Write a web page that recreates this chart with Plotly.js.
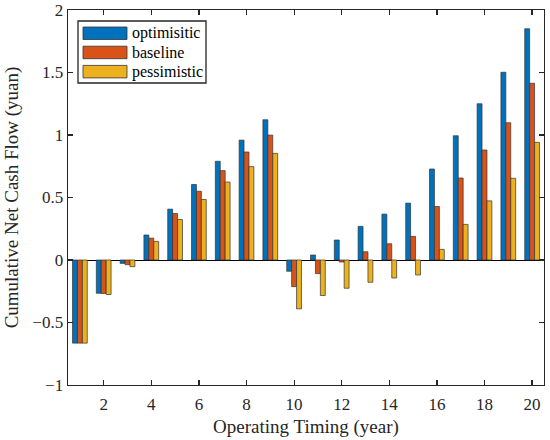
<!DOCTYPE html>
<html>
<head>
<meta charset="utf-8">
<script src="https://cdn.plot.ly/plotly-3.0.1.min.js"></script>
<style>
html,body{margin:0;padding:0;background:#fff;}
#chart{width:550px;height:440px;}
</style>
</head>
<body>
<div id="chart"></div>
<script>
var years = [1,2,3,4,5,6,7,8,9,10,11,12,13,14,15,16,17,18,19,20];
var seriesNames = ["optimisitic", "baseline", "pessimistic"];
var optimistic = [-0.665,-0.266,-0.027,0.200,0.407,0.604,0.790,0.959,1.122,-0.090,0.040,0.160,0.269,0.367,0.455,0.728,0.994,1.250,1.502,1.850];
var baseline   = [-0.665,-0.268,-0.037,0.175,0.372,0.550,0.715,0.864,0.999,-0.213,-0.109,-0.016,0.066,0.130,0.189,0.428,0.656,0.880,1.098,1.414];
var pessimistic= [-0.665,-0.276,-0.053,0.149,0.324,0.484,0.624,0.747,0.853,-0.391,-0.284,-0.226,-0.178,-0.144,-0.120,0.085,0.285,0.473,0.654,0.941];
var colors = ["#0072BD", "#D95319", "#EDB120"];
var allSeries = [optimistic, baseline, pessimistic];

var traces = allSeries.map(function(vals, i){
  return {
    type: "bar",
    x: years,
    y: vals,
    name: seriesNames[i],
    marker: {color: colors[i], line: {color: "#333333", width: 0.7}}
  };
});

var fontFam = "Liberation Serif, Times New Roman, serif";
var axisCol = "#262626";

// plot-area geometry (pixels) used to place the hand-built legend
var M = {l: 68, r: 6, t: 10, b: 55};
var PW = 550 - M.l - M.r, PH = 440 - M.t - M.b;
function px(x){ return (x - M.l) / PW; }
function py(y){ return 1 - (y - M.t) / PH; }

var shapes = [];
var annotations = [];
// legend frame
shapes.push({type: "rect", xref: "paper", yref: "paper",
  x0: px(78), x1: px(206), y0: py(83), y1: py(21),
  fillcolor: "#ffffff", line: {color: axisCol, width: 1.3}, layer: "above"});
seriesNames.forEach(function(name, i){
  var top = 27 + i * 19.2;
  shapes.push({type: "rect", xref: "paper", yref: "paper",
    x0: px(83), x1: px(127), y0: py(top + 12.5), y1: py(top),
    fillcolor: colors[i], line: {color: "#333333", width: 0.8}, layer: "above"});
  annotations.push({xref: "paper", yref: "paper", x: px(130), y: py(top + 6.5),
    xanchor: "left", yanchor: "middle", showarrow: false, text: name,
    font: {family: fontFam, size: 16, color: "#000000"}});
});

var layout = {
  width: 550, height: 440,
  margin: M,
  paper_bgcolor: "#ffffff", plot_bgcolor: "#ffffff",
  barmode: "group", bargap: 0.38, bargroupgap: 0,
  font: {family: fontFam, color: axisCol, size: 17},
  showlegend: false,
  shapes: shapes,
  annotations: annotations,
  xaxis: {
    range: [0.5, 20.5], tick0: 0, dtick: 2,
    ticks: "inside", ticklen: 5, tickwidth: 1.2, tickcolor: axisCol,
    showline: true, linecolor: axisCol, linewidth: 1.4, mirror: "allticks",
    showgrid: false, zeroline: false, ticklabelstandoff: 3,
    tickfont: {family: fontFam, size: 17, color: axisCol},
    title: {text: "Operating Timing (year)", font: {family: fontFam, size: 19, color: axisCol}, standoff: 7}
  },
  yaxis: {
    range: [-1, 2], tick0: 0, dtick: 0.5,
    ticks: "inside", ticklen: 5, tickwidth: 1.2, tickcolor: axisCol,
    showline: true, linecolor: axisCol, linewidth: 1.4, mirror: "allticks",
    showgrid: false, zeroline: true, zerolinecolor: "#000000", zerolinewidth: 1,
    tickfont: {family: fontFam, size: 17, color: axisCol},
    title: {text: "Cumulative Net Cash Flow (yuan)", font: {family: fontFam, size: 19, color: axisCol}, standoff: 8}
  }
};

Plotly.newPlot("chart", traces, layout, {displayModeBar: false, staticPlot: true});
</script>
</body>
</html>
